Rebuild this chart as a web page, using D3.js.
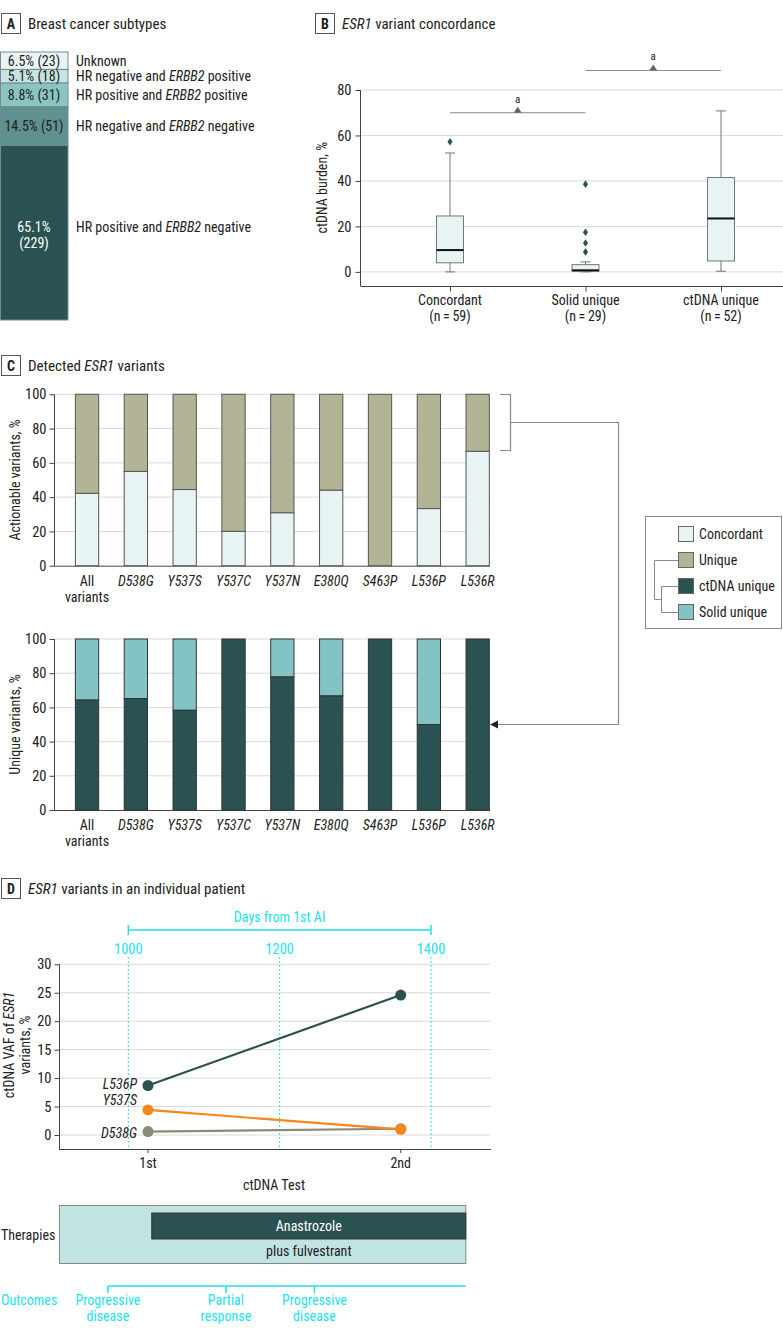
<!DOCTYPE html>
<html><head><meta charset="utf-8">
<script src="https://cdn.jsdelivr.net/npm/d3@7"></script>
<style>
body{margin:0;background:#fff}
svg text{font-family:"Liberation Sans Narrow","Arial Narrow","Roboto Condensed",sans-serif;font-size:14px;fill:#222}
</style></head><body>
<svg id="c" width="783" height="1336"></svg>
<script>
// ---------------- DATA ----------------
// Panel A
const subtypes = ["Unknown","HR negative and ERBB2 positive","HR positive and ERBB2 positive","HR negative and ERBB2 negative","HR positive and ERBB2 negative"];
const subtypePct = [6.5,5.1,8.8,14.5,65.1];
const subtypeN = [23,18,31,51,229];
// Panel B
const concCats = ["Concordant","Solid unique","ctDNA unique"];
const concN = [59,29,52];
const boxMin = [0,0,0.3];
const boxQ1 = [4.0,0.3,4.8];
const boxMed = [9.6,0.7,23.5];
const boxQ3 = [24.6,3.2,41.5];
const boxMax = [52.3,4.4,70.8];
const boxOutliers = [[57.2],[8.8,12.7,17.4,38.6],[]];
const sigPairs = [["Concordant","Solid unique"],["Solid unique","ctDNA unique"]];
const sigLevel = [70,88.6];
const yTicksB = [0,20,40,60,80];
// Panel C
const variants = ["All variants","D538G","Y537S","Y537C","Y537N","E380Q","S463P","L536P","L536R"];
const concordantPct = [42.2,55.0,44.4,20.0,30.8,44.0,0,33.3,66.7];
const ctdnaUniquePct = [64.3,65.2,58.3,100,77.8,66.7,100,50.0,100];
const yTicksC = [0,20,40,60,80,100];
// Panel D
const tests = ["1st","2nd"];
const testDays = [1026,1360];
const vafD538G = [0.6,1.1];
const vafY537S = [4.4,1.0];
const vafL536P = [8.7,24.6];
const dayTicks = [1000,1200,1400];
const yTicksD = [0,5,10,15,20,25,30];
const therapyStart = 909, therapyEnd = 1446, anastrozoleStart = 1031;
const outcomeDays = [973,1129,1246];
const outcomeLabels = [["Progressive","disease"],["Partial","response"],["Progressive","disease"]];

// ---------------- STYLE ----------------
const C = {
  dark:"#2a5253", khaki:"#b3b496", light:"#e8f3f4", solid:"#84c3c3",
  cyan:"#22dfee", orange:"#f7861c", gray:"#8b8a77", grid:"#dadada", axis:"#444"
};
const subtypeColors = ["#e9f3f4","#c4e5e4","#8ac4c3","#5e9190","#2a5253"];

const svg = d3.select("#c");

function rich(sel, str){
  const parts = str.split(/(ESR1|ERBB2|D538G|Y537S|Y537C|Y537N|E380Q|S463P|L536P|L536R)/);
  parts.forEach(p=>{ if(!p) return; const t=sel.append("tspan").text(p); if(/^(ESR1|ERBB2|[A-Z]\d{3}[A-Z])$/.test(p)) t.style("font-style","italic"); });
  return sel;
}
function panelLabel(x,y,letter,title){
  svg.append("rect").attr("x",x+0.5).attr("y",y+0.5).attr("width",19).attr("height",20).attr("fill","#fff").attr("stroke","#555");
  svg.append("text").attr("x",x+10).attr("y",y+15.5).attr("text-anchor","middle").style("font-weight","bold").style("font-size","14px").text(letter);
  rich(svg.append("text").attr("x",x+27).attr("y",y+16).style("font-size","15px"), title);
}
function styleAxis(a){
  a.selectAll("path,line").attr("stroke",C.axis);
  a.selectAll("text").style("font-size","14.5px").attr("fill","#222").style("font-family",null);
}

// ---------------- PANEL A ----------------
panelLabel(1,13,"A","Breast cancer subtypes");
const yA = d3.scaleLinear().domain([0,100]).range([52,320]);
let cum=0;
const segs = subtypes.map((s,i)=>{const a=cum; cum+=subtypePct[i]; return {label:s,pct:subtypePct[i],n:subtypeN[i],y0:a,y1:cum,i};});
const gA = svg.append("g");
gA.selectAll("rect").data(segs).join("rect")
  .attr("x",0.5).attr("width",67.5).attr("y",d=>yA(d.y0)).attr("height",d=>yA(d.y1)-yA(d.y0))
  .attr("fill",d=>subtypeColors[d.i]).attr("stroke","#7a8a8a").attr("stroke-width",1);
segs.forEach((d,i)=>{
  const cy=(yA(d.y0)+yA(d.y1))/2;
  if(i===segs.length-1){
    const t=gA.append("text").attr("x",34).attr("text-anchor","middle").style("fill","#fff");
    t.append("tspan").attr("x",34).attr("y",cy-1).text(d.pct.toFixed(1)+"%");
    t.append("tspan").attr("x",34).attr("y",cy+15).text("("+d.n+")");
    rich(gA.append("text").attr("x",76).attr("y",cy-1),d.label);
  } else {
    gA.append("text").attr("x",34).attr("y",cy+5).attr("text-anchor","middle").text(d.pct.toFixed(1)+"% ("+d.n+")");
    rich(gA.append("text").attr("x",76).attr("y",cy+5),d.label);
  }
});

// ---------------- PANEL B ----------------
panelLabel(315,13,"B","ESR1 variant concordance");
const xB = d3.scalePoint().domain(concCats).range([450,721]);
const yB = d3.scaleLinear().domain([-6.2,80]).range([286,90]);
const gB = svg.append("g");
gB.selectAll("line.grid").data(yTicksB).join("line").attr("class","grid")
  .attr("x1",361).attr("x2",783).attr("y1",d=>yB(d)).attr("y2",d=>yB(d)).attr("stroke",C.grid);
const axYB = gB.append("g").attr("transform","translate(360.5,0)").call(d3.axisLeft(yB).tickValues(yTicksB).tickSize(5).tickPadding(4));
axYB.select(".domain").attr("d",`M-0,${yB(80)}V286`);
const axXB = gB.append("g").attr("transform","translate(0,286.5)").call(d3.axisBottom(xB).tickSize(5).tickFormat(""));
axXB.select(".domain").attr("d","M360.5,0H783");
[axYB,axXB].forEach(styleAxis);
concCats.forEach((c,i)=>{
  const t=gB.append("text").attr("text-anchor","middle");
  t.append("tspan").attr("x",xB(c)).attr("y",305).text(c);
  t.append("tspan").attr("x",xB(c)).attr("y",321).text("(n\u2009=\u2009"+concN[i]+")");
});
gB.append("text").attr("transform",`translate(327,${yB(37)}) rotate(-90)`).attr("text-anchor","middle").text("ctDNA burden, %");
const bw=27;
concCats.forEach((c,i)=>{
  const x=xB(c);
  gB.append("line").attr("x1",x).attr("x2",x).attr("y1",yB(boxMin[i])).attr("y2",yB(boxMax[i])).attr("stroke","#777");
  [boxMin[i],boxMax[i]].forEach(v=>gB.append("line").attr("x1",x-5).attr("x2",x+5).attr("y1",yB(v)).attr("y2",yB(v)).attr("stroke","#777"));
  gB.append("rect").attr("x",x-bw/2).attr("width",bw).attr("y",yB(boxQ3[i])).attr("height",yB(boxQ1[i])-yB(boxQ3[i]))
    .attr("fill",C.light).attr("stroke","#777");
  gB.append("line").attr("x1",x-bw/2).attr("x2",x+bw/2).attr("y1",yB(boxMed[i])).attr("y2",yB(boxMed[i])).attr("stroke","#111").attr("stroke-width",2);
  boxOutliers[i].forEach(v=>gB.append("path").attr("d",d3.symbol(d3.symbolDiamond2,30)()).attr("transform",`translate(${x},${yB(v)}) scale(0.75,1.1)`).attr("fill",C.dark));
});
sigPairs.forEach((p,i)=>{
  const y=yB(sigLevel[i]), x1=xB(p[0]), x2=xB(p[1]), xm=(x1+x2)/2;
  gB.append("line").attr("x1",x1).attr("x2",x2).attr("y1",y).attr("y2",y).attr("stroke","#888");
  gB.append("path").attr("d",`M${xm-4},${y}L${xm},${y-6}L${xm+4},${y}Z`).attr("fill","#666");
  gB.append("text").attr("x",xm).attr("y",y-10).attr("text-anchor","middle").style("font-size","11px").text("a");
});

// ---------------- PANEL C ----------------
panelLabel(1,355,"C","Detected ESR1 variants");
const xC = d3.scaleBand().domain(variants).range([62.6,502.1]).paddingInner(0.523).paddingOuter(0.2615);
function barChart(y0,y1,bottom,colTop,colBottom,label,stroke){
  const yC = d3.scaleLinear().domain([0,100]).range([y0,y1]);
  const g = svg.append("g");
  g.selectAll("line.grid").data(yTicksC.slice(1)).join("line").attr("x1",55).attr("x2",490).attr("y1",d=>yC(d)).attr("y2",d=>yC(d)).attr("stroke",C.grid);
  const ay = g.append("g").attr("transform","translate(54.5,0)").call(d3.axisLeft(yC).tickValues(yTicksC).tickSize(5).tickPadding(3));
  ay.select(".domain").attr("d",`M0,${y1}V${y0}`);
  styleAxis(ay);
  g.append("line").attr("x1",54).attr("x2",490).attr("y1",y0+0.5).attr("y2",y0+0.5).attr("stroke",C.axis);
  variants.forEach((v,i)=>{
    const x=xC(v), w=xC.bandwidth();
    g.append("rect").attr("x",x).attr("width",w).attr("y",yC(100)).attr("height",yC(bottom[i])-yC(100)).attr("fill",colTop).attr("stroke",stroke);
    if(bottom[i]>0) g.append("rect").attr("x",x).attr("width",w).attr("y",yC(bottom[i])).attr("height",yC(0)-yC(bottom[i])).attr("fill",colBottom).attr("stroke",stroke);
    const cx=x+w/2;
    if(v==="All variants"){
      const t=g.append("text").attr("text-anchor","middle");
      t.append("tspan").attr("x",cx).attr("y",y0+20).text("All");
      t.append("tspan").attr("x",cx).attr("y",y0+36).text("variants");
    } else {
      g.append("text").attr("x",cx).attr("y",y0+20).attr("text-anchor","middle").style("font-style","italic").text(v);
    }
  });
  g.append("text").attr("transform",`translate(20,${(y0+y1)/2}) rotate(-90)`).attr("text-anchor","middle").text(label);
}
barChart(565.7,394.3,concordantPct,C.khaki,C.light,"Actionable variants, %","#555");
barChart(810,639,ctdnaUniquePct,C.solid,C.dark,"Unique variants, %","#333");
// connector
svg.append("path").attr("d","M500,394.5H510.5V450.5H500M510.5,422.5H618.5V724.5H496").attr("fill","none").attr("stroke","#888").attr("stroke-width",1.2);
svg.append("path").attr("d","M490,724.5L498,720.5L498,728.5Z").attr("fill","#222");
// legend
const lg = svg.append("g");
lg.append("rect").attr("x",645.5).attr("y",516.5).attr("width",136).attr("height",112).attr("fill","#fff").attr("stroke","#888");
const legItems = [["Concordant",C.light],["Unique",C.khaki],["ctDNA unique",C.dark],["Solid unique",C.solid]];
legItems.forEach((d,i)=>{
  const cy=534+i*26;
  lg.append("rect").attr("x",678.5).attr("y",cy-7.5).attr("width",15).attr("height",15).attr("fill",d[1]).attr("stroke","#666");
  lg.append("text").attr("x",699).attr("y",cy+5).text(d[0]);
});
lg.append("path").attr("d","M678,560.5H654.5V599.5H661.5M661.5,586.5V612.5M661.5,586.5H678M661.5,612.5H678").attr("fill","none").attr("stroke","#888");

// ---------------- PANEL D ----------------
panelLabel(1,878,"D","ESR1 variants in an individual patient");
const xD = d3.scaleLinear().domain([1000,1400]).range([128.3,431]);
const yD = d3.scaleLinear().domain([-2.46,30]).range([1149,964.3]);
const gD = svg.append("g");
gD.selectAll("line.grid").data(yTicksD).join("line").attr("x1",60).attr("x2",491).attr("y1",d=>yD(d)).attr("y2",d=>yD(d)).attr("stroke",C.grid);
gD.selectAll("line.vd").data(dayTicks).join("line").attr("x1",d=>xD(d)).attr("x2",d=>xD(d)).attr("y1",957).attr("y2",1149)
  .attr("stroke",C.cyan).attr("stroke-dasharray","2,2");
const ayD = gD.append("g").attr("transform","translate(59.5,0)").call(d3.axisLeft(yD).tickValues(yTicksD).tickSize(5).tickPadding(3));
ayD.select(".domain").attr("d",`M0,${yD(30)}V1149`);
styleAxis(ayD);
gD.append("line").attr("x1",59).attr("x2",491).attr("y1",1149.5).attr("y2",1149.5).attr("stroke",C.axis);
tests.forEach((t,i)=>{
  gD.append("line").attr("x1",xD(testDays[i])).attr("x2",xD(testDays[i])).attr("y1",1149).attr("y2",1153).attr("stroke",C.axis);
  gD.append("text").attr("x",xD(testDays[i])).attr("y",1168).attr("text-anchor","middle").text(t);
});
gD.append("text").attr("x",274).attr("y",1190).attr("text-anchor","middle").text("ctDNA Test");
// top days axis
gD.append("path").attr("d",`M${xD(1000)},925V935M${xD(1000)},930H${xD(1400)}M${xD(1400)},925V935`).attr("stroke",C.cyan).attr("stroke-width",1.5).attr("fill","none");
gD.append("text").attr("x",(xD(1000)+xD(1400))/2).attr("y",922).attr("text-anchor","middle").style("fill",C.cyan).text("Days from 1st AI");
dayTicks.forEach(d=>gD.append("text").attr("x",xD(d)).attr("y",954).attr("text-anchor","middle").style("fill",C.cyan).style("font-size","14.5px").text(d));
// y label
const yl = gD.append("text").attr("transform",`translate(0,1045) rotate(-90)`).attr("text-anchor","middle");
rich(yl.append("tspan").attr("x",0).attr("y",14),"ctDNA VAF of ESR1");
yl.append("tspan").attr("x",0).attr("y",30).text("variants, %");
// lines
const series = [["D538G",vafD538G,C.gray],["Y537S",vafY537S,C.orange],["L536P",vafL536P,C.dark]];
const lineGen = d3.line().x((d,i)=>xD(testDays[i])).y(d=>yD(d));
series.forEach(s=>{
  gD.append("path").attr("d",lineGen(s[1])).attr("fill","none").attr("stroke",s[2]).attr("stroke-width",2.2);
  s[1].forEach((v,i)=>gD.append("circle").attr("cx",xD(testDays[i])).attr("cy",yD(v)).attr("r",5.5).attr("fill",s[2]));
});
const labOff = {L536P:-1, Y537S:-10, D538G:1};
series.forEach(s=>{
  gD.append("text").attr("x",xD(testDays[0])-11).attr("y",yD(s[1][0])+5+labOff[s[0]]).attr("text-anchor","end").style("font-style","italic").text(s[0]);
});
// therapies
const gT = svg.append("g");
gT.append("rect").attr("x",xD(therapyStart)).attr("y",1205.5).attr("width",xD(therapyEnd)-xD(therapyStart)).attr("height",58).attr("fill","#c1e4e3").attr("stroke","#888");
gT.append("rect").attr("x",xD(anastrozoleStart)).attr("y",1213).attr("width",xD(therapyEnd)-xD(anastrozoleStart)).attr("height",26).attr("fill",C.dark).attr("stroke","#333");
const tmid=(xD(anastrozoleStart)+xD(therapyEnd))/2;
gT.append("text").attr("x",tmid).attr("y",1231).attr("text-anchor","middle").style("fill","#fff").text("Anastrozole");
gT.append("text").attr("x",tmid).attr("y",1256).attr("text-anchor","middle").text("plus fulvestrant");
gT.append("text").attr("x",1).attr("y",1240).text("Therapies");
// outcomes
gT.append("line").attr("x1",xD(outcomeDays[0])).attr("x2",xD(therapyEnd)).attr("y1",1286).attr("y2",1286).attr("stroke",C.cyan).attr("stroke-width",1.5);
outcomeDays.forEach((d,i)=>{
  gT.append("line").attr("x1",xD(d)).attr("x2",xD(d)).attr("y1",1286).attr("y2",1293).attr("stroke",C.cyan).attr("stroke-width",1.5);
  gT.append("text").attr("x",xD(d)).attr("y",1305).attr("text-anchor","middle").style("fill",C.cyan).text(outcomeLabels[i][0]);
  gT.append("text").attr("x",xD(d)).attr("y",1321).attr("text-anchor","middle").style("fill",C.cyan).text(outcomeLabels[i][1]);
});
gT.append("text").attr("x",1).attr("y",1305).style("fill",C.cyan).text("Outcomes");
</script>
</body></html>
